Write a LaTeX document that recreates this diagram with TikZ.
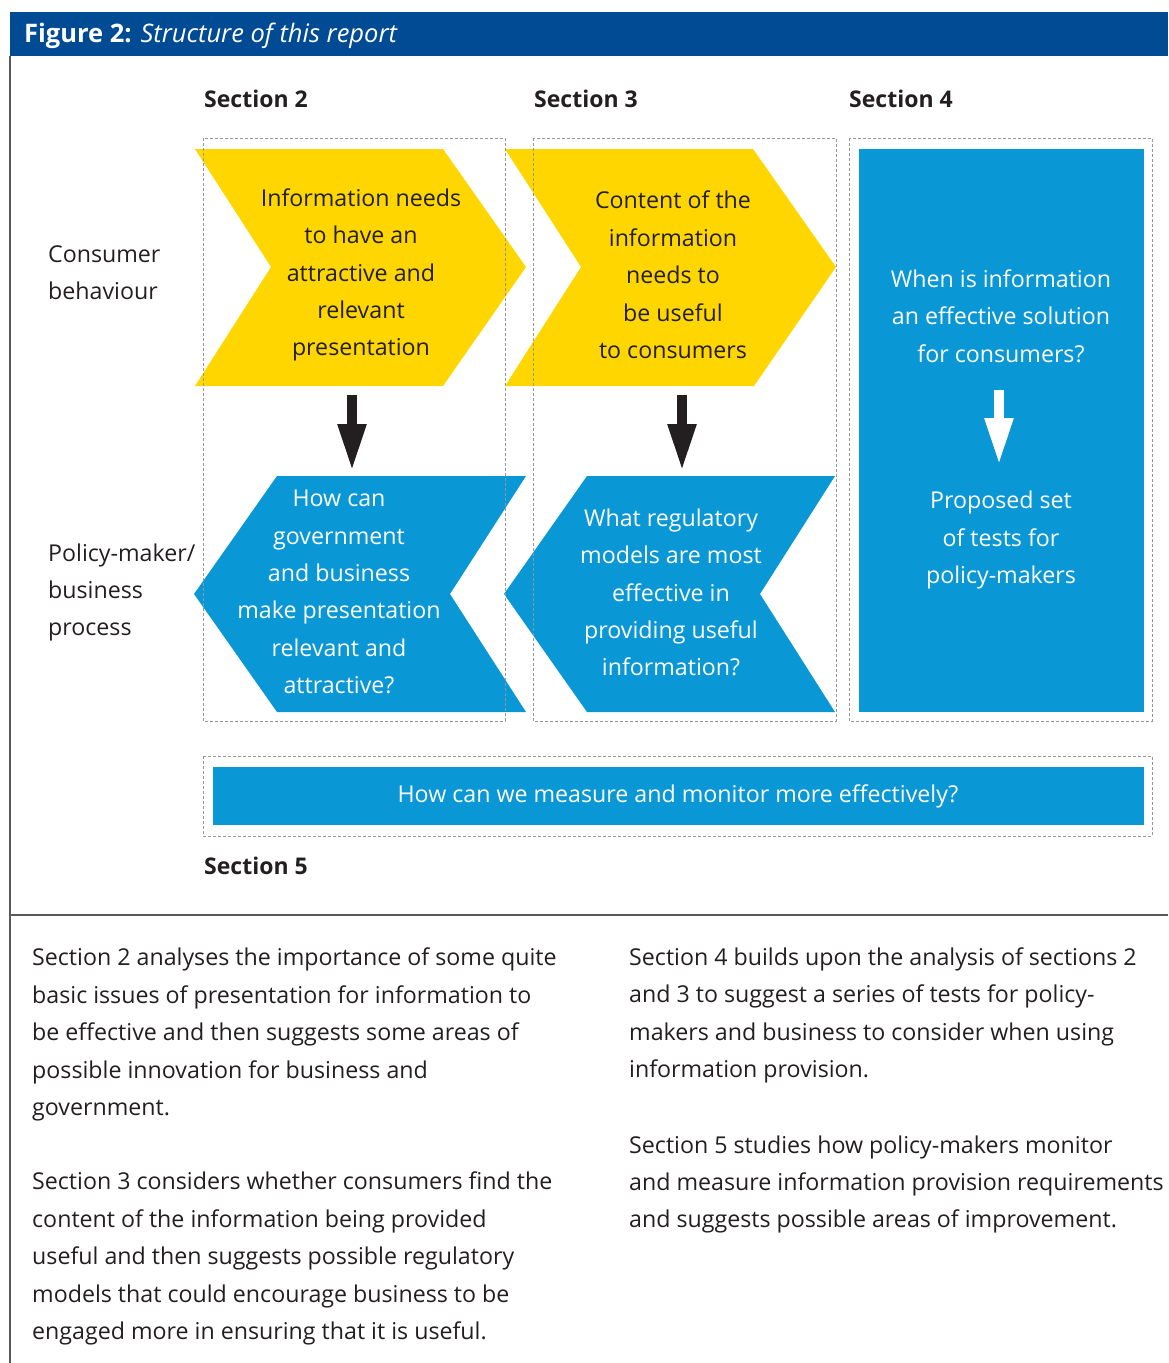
\documentclass[tikz,border=0pt]{standalone}
\usepackage{fontspec}
\setmainfont{Open Sans}
\usetikzlibrary{arrows.meta}

\definecolor{hdrblue}{RGB}{0,75,147}
\definecolor{chevyellow}{RGB}{255,214,0}
\definecolor{boxblue}{RGB}{9,151,214}
\definecolor{inkgray}{RGB}{35,31,32}
\definecolor{dashgray}{RGB}{150,150,150}
\definecolor{rulegray}{RGB}{90,90,90}

\begin{document}
\begin{tikzpicture}[x=1pt,y=-1pt,
  body/.style={font=\fontsize{23.2}{37.4}\selectfont, text=inkgray, inner sep=0pt},
  block/.style={body, align=center},
  wblock/.style={block, text=white},
  para/.style={body, align=left, anchor=west},
  sechead/.style={font=\fontsize{23}{27}\selectfont\bfseries, text=inkgray, anchor=west, inner sep=0pt},
  secframe/.style={draw=dashgray, dash pattern=on 3pt off 2pt, line width=0.8pt},
  blockarrow/.style={line width=10.7pt, -{Triangle[width=26pt,length=48pt]}},
  framerule/.style={draw=rulegray, line width=1.4pt}
]
\useasboundingbox (0,0) rectangle (1168,1363);

% title bar and outer rules
\fill[hdrblue] (10,12) rectangle (1168,56);
\node[anchor=west, inner sep=0pt, text=white, font=\fontsize{25.5}{30}\selectfont] (title) at (24,36)
  {\textbf{Figure 2:} \textit{Structure of this report}};
\draw[framerule] (10,56) -- (10,1363);
\draw[framerule] (10,915) -- (1168,915);

% column headings
\node[sechead] (h2) at (204,99) {Section 2};
\node[sechead] (h3) at (534,99) {Section 3};
\node[sechead] (h4) at (849,99) {Section 4};
\node[sechead] (h5) at (204,866) {Section 5};

% row labels
\node[para] (rowA) at (48,273) {Consumer\\behaviour};
\node[para] (rowB) at (48,592.5) {Policy-maker/\\business\\process};

% yellow chevrons (pointing right)
\fill[chevyellow] (195,149) -- (443,149) -- (526,267) -- (443,386) -- (195,386) -- (271,267) -- cycle;
\fill[chevyellow] (505,149) -- (753,149) -- (836,267) -- (754,386) -- (505,386) -- (581,267) -- cycle;

% blue chevrons (pointing left)
\fill[boxblue] (277,476) -- (526,476) -- (450,594) -- (526,712) -- (277,712) -- (194,594) -- cycle;
\fill[boxblue] (587,476) -- (835,476) -- (760,594) -- (835,712) -- (587,712) -- (504,594) -- cycle;

% section 4 panel and section 5 bar
\fill[boxblue] (859,149) rectangle (1144,712);
\fill[boxblue] (213,767) rectangle (1144,825);

% dashed section frames
\draw[secframe] (203,138) rectangle (505,721);
\draw[secframe] (533,138) rectangle (836,721);
\draw[secframe] (849,138) rectangle (1152,721);
\draw[secframe] (203,756) rectangle (1152,836);

% texts inside the shapes
\node[block] (y1) at (361,275) {Information needs\\to have an\\attractive and\\relevant\\presentation};
\node[block] (y2) at (673,275) {Content of the\\information\\needs to\\be useful\\to consumers};
\node[wblock] (b1) at (339,592) {How can\\government\\and business\\make presentation\\relevant and\\attractive?};
\node[wblock] (b2) at (671,592.5) {What regulatory\\models are most\\effective in\\providing useful\\information?};
\node[wblock] (s4a) at (1001,316) {When is information\\an effective solution\\for consumers?};
\node[wblock] (s4b) at (1001,540) {Proposed set\\of tests for\\policy-makers};
\node[wblock] (s5) at (678,796) {How can we measure and monitor more effectively?};

% block arrows
\coordinate (a1s) at (352,395);
\coordinate (a1e) at (352,472);
\coordinate (a2s) at (682,395);
\coordinate (a2e) at (682,472);
\coordinate (a3s) at (999,390);
\coordinate (a3e) at (999,466);
\draw[blockarrow, draw=inkgray, fill=inkgray] (a1s) -- (a1e);
\draw[blockarrow, draw=inkgray, fill=inkgray] (a2s) -- (a2e);
\draw[blockarrow, draw=white, fill=white] (a3s) -- (a3e);

% explanatory paragraphs
\node[para] (p2) at (32,1034.5) {Section 2 analyses the importance of some quite\\basic issues of presentation for information to\\be effective and then suggests some areas of\\possible innovation for business and\\government.};
\node[para] (p3) at (32,1258.5) {Section 3 considers whether consumers find the\\content of the information being provided\\useful and then suggests possible regulatory\\models that could encourage business to be\\engaged more in ensuring that it is useful.};
\node[para] (p4) at (629,1015.5) {Section 4 builds upon the analysis of sections 2\\and 3 to suggest a series of tests for policy-\\makers and business to consider when using\\information provision.};
\node[para] (p5) at (629,1184.5) {Section 5 studies how policy-makers monitor\\and measure information provision requirements\\and suggests possible areas of improvement.};
\end{tikzpicture}
\end{document}
